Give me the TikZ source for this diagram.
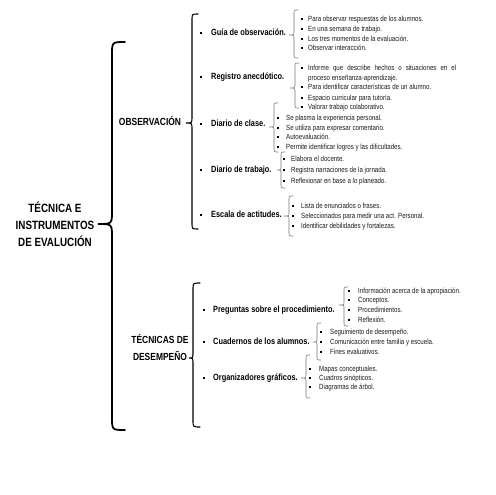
\documentclass[tikz,border=0pt]{standalone}
\usepackage{fontspec}
\setmainfont{Liberation Sans}[FakeStretch=0.82]
\begin{document}
\begin{tikzpicture}[x=1pt,y=-1pt,
  title/.style={font=\fontsize{12}{17}\selectfont\bfseries, align=center},
  lvlone/.style={font=\fontsize{10.3}{17}\selectfont\bfseries, align=center},
  lvltwo/.style={font=\fontsize{9}{11}\selectfont\bfseries, anchor=mid west, inner sep=0},
  lvlthree/.style={font=\fontsize{7.5}{9}\selectfont, anchor=mid west, inner sep=0, text=black!90},
  bigbrace/.style={line width=1.8pt, line cap=round},
  midbrace/.style={line width=1.1pt, line cap=round},
  smallbrace/.style={line width=0.6pt, black!55, line cap=round},
  dot/.style={rectangle, fill=black, inner sep=0, minimum size=2pt}
]
\useasboundingbox (0,0) rectangle (495,495);
% brace macro: line x, top, bottom, tip x, tip y, hook, style
\newcommand\cbr[7]{%
  \draw[#7] ({#1+#6},#2) .. controls (#1,#2) .. (#1,{#2+#6}) -- (#1,{#5-#6})
    .. controls (#1,#5) .. (#4,#5) .. controls (#1,#5) .. (#1,{#5+#6})
    -- (#1,{#3-#6}) .. controls (#1,#3) .. ({#1+#6},#3);}

% title
\node[title] (root) at (55,224) {TÉCNICA E\\INSTRUMENTOS\\DE EVALUCIÓN};
\cbr{112}{42}{430}{98}{224}{13}{bigbrace}

\node[lvlone] (obs) at (150,121) {OBSERVACIÓN};
\cbr{192}{14}{229}{186}{123}{6}{midbrace}

\node[lvlone] (des) at (160,347) {TÉCNICAS DE\\DESEMPEÑO};
\cbr{193}{283}{427}{189}{358}{7}{midbrace}

% level 2 - observación
\node[dot] (g1b) at (201,33) {}; \node[lvltwo] (g1) at (211,33) {Guía de observación.};
\node[dot] (g2b) at (201,77) {}; \node[lvltwo] (g2) at (211,77) {Registro anecdótico.};
\node[dot] (g3b) at (201,124) {}; \node[lvltwo] (g3) at (211,124) {Diario de clase.};
\node[dot] (g4b) at (201,170) {}; \node[lvltwo] (g4) at (211,170) {Diario de trabajo.};
\node[dot] (g5b) at (201,215) {}; \node[lvltwo] (g5) at (211,215) {Escala de actitudes.};
% level 2 - desempeño
\node[dot] (d1b) at (204,310) {}; \node[lvltwo] (d1) at (213,310) {Preguntas sobre el procedimiento.};
\node[dot] (d2b) at (204,342) {}; \node[lvltwo] (d2) at (213,342) {Cuadernos de los alumnos.};
\node[dot] (d3b) at (204,378) {}; \node[lvltwo] (d3) at (213,378) {Organizadores gráficos.};

% level 3 braces
\cbr{294}{10}{58}{289}{35}{4}{smallbrace}
\cbr{295}{63}{108}{290}{88}{4}{smallbrace}
\cbr{274}{103}{152}{269}{127}{4}{smallbrace}
\cbr{281}{152}{188}{277}{170}{4}{smallbrace}
\cbr{289}{196}{236}{284}{216}{4}{smallbrace}
\cbr{344}{287}{326}{339}{305}{4}{smallbrace}
\cbr{317}{323}{360}{313}{342}{4}{smallbrace}
\cbr{306}{355}{398}{301}{378}{4}{smallbrace}

% level 3 items
\node[dot] (a1b) at (302,19) {}; \node[lvlthree] (a1) at (308,19) {Para observar respuestas de los alumnos.};
\node[dot] (a2b) at (302,29) {}; \node[lvlthree] (a2) at (308,29) {En una semana de trabajo.};
\node[dot] (a3b) at (302,39) {}; \node[lvlthree] (a3) at (308,39) {Los tres momentos de la evaluación.};
\node[dot] (a4b) at (302,48) {}; \node[lvlthree] (a4) at (308,48) {Observar interacción.};

\node[dot] (b1b) at (302,68) {}; \node[lvlthree] (b1) at (308,68) {\makebox[148pt][s]{Informe que describe hechos o situaciones en el}};
\node[lvlthree] (b1c) at (308,78) {proceso enseñanza-aprendizaje.};
\node[dot] (b2b) at (302,87) {}; \node[lvlthree] (b2) at (308,87) {Para identificar características de un alumno.};
\node[dot] (b3b) at (302,98) {}; \node[lvlthree] (b3) at (308,98) {Espacio curricular para tutoría.};
\node[dot] (b4b) at (302,107) {}; \node[lvlthree] (b4) at (308,107) {Valorar trabajo colaborativo.};

\node[dot] (c1b) at (278,118) {}; \node[lvlthree] (c1) at (286,118) {Se plasma la experiencia personal.};
\node[dot] (c2b) at (278,128) {}; \node[lvlthree] (c2) at (286,128) {Se utiliza para expresar comentario.};
\node[dot] (c3b) at (278,137) {}; \node[lvlthree] (c3) at (286,137) {Autoevaluación.};
\node[dot] (c4b) at (278,147) {}; \node[lvlthree] (c4) at (286,147) {Permite identificar logros y las dificultades.};

\node[dot] (e1b) at (284,159) {}; \node[lvlthree] (e1) at (291,159) {Elabora el docente.};
\node[dot] (e2b) at (284,170) {}; \node[lvlthree] (e2) at (291,170) {Registra narraciones de la jornada.};
\node[dot] (e3b) at (284,181) {}; \node[lvlthree] (e3) at (291,181) {Reflexionar en base a lo planeado.};

\node[dot] (f1b) at (293,206) {}; \node[lvlthree] (f1) at (301,206) {Lista de enunciados o frases.};
\node[dot] (f2b) at (293,216) {}; \node[lvlthree] (f2) at (301,216) {Seleccionados para medir una act. Personal.};
\node[dot] (f3b) at (293,226) {}; \node[lvlthree] (f3) at (301,226) {Identificar debilidades y fortalezas.};

\node[dot] (p1b) at (349,291) {}; \node[lvlthree] (p1) at (358,291) {Información acerca de la apropiación.};
\node[dot] (p2b) at (349,300) {}; \node[lvlthree] (p2) at (358,300) {Conceptos.};
\node[dot] (p3b) at (349,310) {}; \node[lvlthree] (p3) at (358,310) {Procedimientos.};
\node[dot] (p4b) at (349,320) {}; \node[lvlthree] (p4) at (358,320) {Reflexión.};

\node[dot] (q1b) at (321,332) {}; \node[lvlthree] (q1) at (330,332) {Seguimiento de desempeño.};
\node[dot] (q2b) at (321,342) {}; \node[lvlthree] (q2) at (330,342) {Comunicación entre familia y escuela.};
\node[dot] (q3b) at (321,352) {}; \node[lvlthree] (q3) at (330,352) {Fines evaluativos.};

\node[dot] (r1b) at (310,369) {}; \node[lvlthree] (r1) at (319,369) {Mapas conceptuales.};
\node[dot] (r2b) at (310,378) {}; \node[lvlthree] (r2) at (319,378) {Cuadros sinópticos.};
\node[dot] (r3b) at (310,387) {}; \node[lvlthree] (r3) at (319,387) {Diagramas de árbol.};
\end{tikzpicture}
\end{document}
